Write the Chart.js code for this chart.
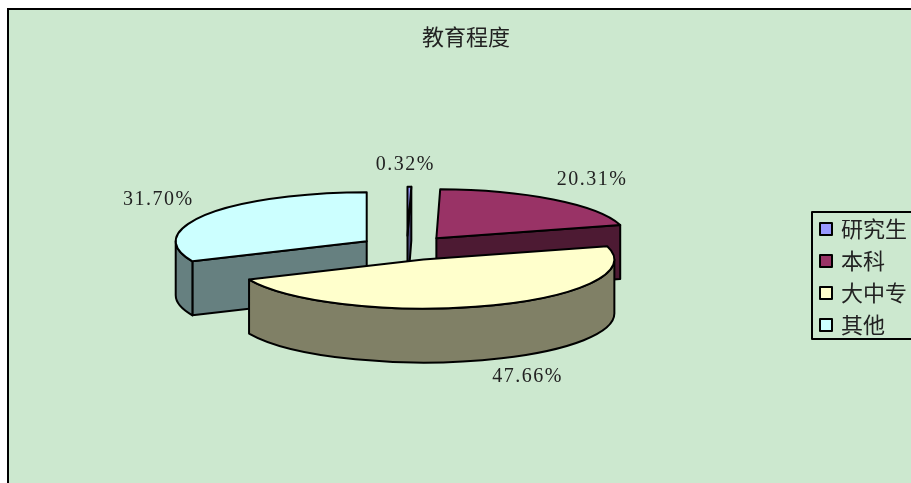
<!DOCTYPE html>
<html>
<head>
<meta charset="utf-8">
<style>
html, body { margin: 0; padding: 0; background: #fff; overflow: hidden; }
canvas { display: block; }
</style>
<script src="https://cdn.jsdelivr.net/npm/chart.js@4"></script>
</head>
<body>
<canvas id="pie" width="911" height="483"></canvas>
<script>
const chartTitle = '教育程度'
const categories = ['研究生', '本科', '大中专', '其他']
const shares = [0.32, 20.31, 47.66, 31.70]

const topColors = ['#9999FF', '#993366', '#FFFFCC', '#CCFFFF']
const sideColors = ['#4D4D80', '#4D1A33', '#808066', '#668080']
const labelShift = [[-4, -22], [39, -20], [39, 17], [-48, -15]]

// projection of the flat pie into the tilted 3D look
const pieX = 407
const pieY = 248
const radiusX = 191
const radiusY = 49
const depth = 54
const explode = 48

const cjk = '"Noto Sans CJK SC", sans-serif'
const serif = '"Liberation Serif", serif'

function sliceGeometry(arc) {
    const mid = (arc.startAngle + arc.endAngle) / 2
    return {
        x: pieX + Math.cos(mid) * arc.options.offset,
        y: pieY + Math.sin(mid) * arc.options.offset * radiusY / radiusX,
        a0: arc.startAngle,
        a1: arc.endAngle,
        mid: mid
    }
}

function rimPoint(s, angle) {
    return [s.x + Math.cos(angle) * radiusX, s.y + Math.sin(angle) * radiusY]
}

function cutFace(ctx, s, angle, color) {
    const p = rimPoint(s, angle)
    ctx.beginPath()
    ctx.moveTo(s.x, s.y)
    ctx.lineTo(p[0], p[1])
    ctx.lineTo(p[0], p[1] + depth)
    ctx.lineTo(s.x, s.y + depth)
    ctx.closePath()
    ctx.fillStyle = color
    ctx.fill()
    ctx.stroke()
}

function rimWall(ctx, s, from, to, color) {
    ctx.beginPath()
    ctx.ellipse(s.x, s.y, radiusX, radiusY, 0, from, to)
    ctx.ellipse(s.x, s.y + depth, radiusX, radiusY, 0, to, from, true)
    ctx.closePath()
    ctx.fillStyle = color
    ctx.fill()
    ctx.stroke()
}

function drawSlice(ctx, arc, index) {
    const s = sliceGeometry(arc)
    ctx.lineWidth = 2
    ctx.strokeStyle = '#000'
    ctx.lineJoin = 'round'

    if (Math.cos(s.a0) < 0) cutFace(ctx, s, s.a0, sideColors[index])
    if (Math.cos(s.a1) > 0) cutFace(ctx, s, s.a1, sideColors[index])

    // only the front half of the rim can be seen
    for (let turn = -1; turn <= 1; turn++) {
        const from = Math.max(s.a0, turn * 2 * Math.PI)
        const to = Math.min(s.a1, turn * 2 * Math.PI + Math.PI)
        if (to > from) rimWall(ctx, s, from, to, sideColors[index])
    }

    ctx.beginPath()
    ctx.moveTo(s.x, s.y)
    ctx.ellipse(s.x, s.y, radiusX, radiusY, 0, s.a0, s.a1)
    ctx.closePath()
    ctx.fillStyle = topColors[index]
    ctx.fill()
    ctx.stroke()
}

function drawShareLabels(ctx, arcs) {
    ctx.font = '20px ' + serif
    ctx.letterSpacing = '1.5px'
    ctx.fillStyle = '#222'
    ctx.textAlign = 'center'
    ctx.textBaseline = 'middle'
    arcs.forEach((arc, i) => {
        const s = sliceGeometry(arc)
        const p = rimPoint(s, s.mid)
        const wall = Math.sin(s.mid) > 0 ? depth : 0
        ctx.fillText(shares[i].toFixed(2) + '%', p[0] + labelShift[i][0], p[1] + wall + labelShift[i][1])
    })
    ctx.letterSpacing = '0px'
}

function drawLegend(ctx) {
    ctx.lineWidth = 2
    ctx.strokeStyle = '#000'
    ctx.fillStyle = '#CCE8CF'
    ctx.fillRect(812, 212, 110, 127)
    ctx.strokeRect(812, 212, 110, 127)

    ctx.font = '22px ' + cjk
    ctx.textAlign = 'left'
    ctx.textBaseline = 'middle'
    categories.forEach((name, i) => {
        const y = 229 + i * 32
        ctx.fillStyle = topColors[i]
        ctx.fillRect(820, y - 6, 12, 12)
        ctx.strokeRect(820, y - 6, 12, 12)
        ctx.fillStyle = '#222'
        ctx.fillText(name, 841, y)
    })
}

const tiltedPie = {
    id: 'tiltedPie',
    beforeDraw(chart) {
        const ctx = chart.ctx
        ctx.save()
        ctx.fillStyle = '#fff'
        ctx.fillRect(0, 0, chart.width, chart.height)
        ctx.fillStyle = '#CCE8CF'
        ctx.fillRect(8, 9, chart.width, chart.height)
        ctx.strokeStyle = '#000'
        ctx.lineWidth = 2
        ctx.strokeRect(8, 9, chart.width, chart.height)
        ctx.restore()
    },
    beforeDatasetDraw(chart, args) {
        const ctx = chart.ctx
        const arcs = args.meta.data
        ctx.save()
        // back slices first, the large front one on top
        ;[0, 1, 3, 2].forEach(i => drawSlice(ctx, arcs[i], i))
        drawShareLabels(ctx, arcs)
        drawLegend(ctx)
        ctx.restore()
        return false
    }
}

new Chart(document.querySelector('#pie'), {
    type: 'pie',
    data: {
        labels: categories,
        datasets: [
            {
                data: shares,
                backgroundColor: topColors,
                offset: explode
            }
        ]
    },
    plugins: [tiltedPie],
    options: {
        responsive: false,
        animation: false,
        layout: {
            padding: { left: 31, right: 10, top: 23, bottom: 10 }
        },
        plugins: {
            legend: { display: false },
            tooltip: { enabled: false },
            title: {
                display: true,
                text: chartTitle,
                color: '#222',
                padding: 0,
                font: { family: cjk, size: 22, weight: 'normal' }
            }
        }
    }
})
</script>
</body>
</html>
